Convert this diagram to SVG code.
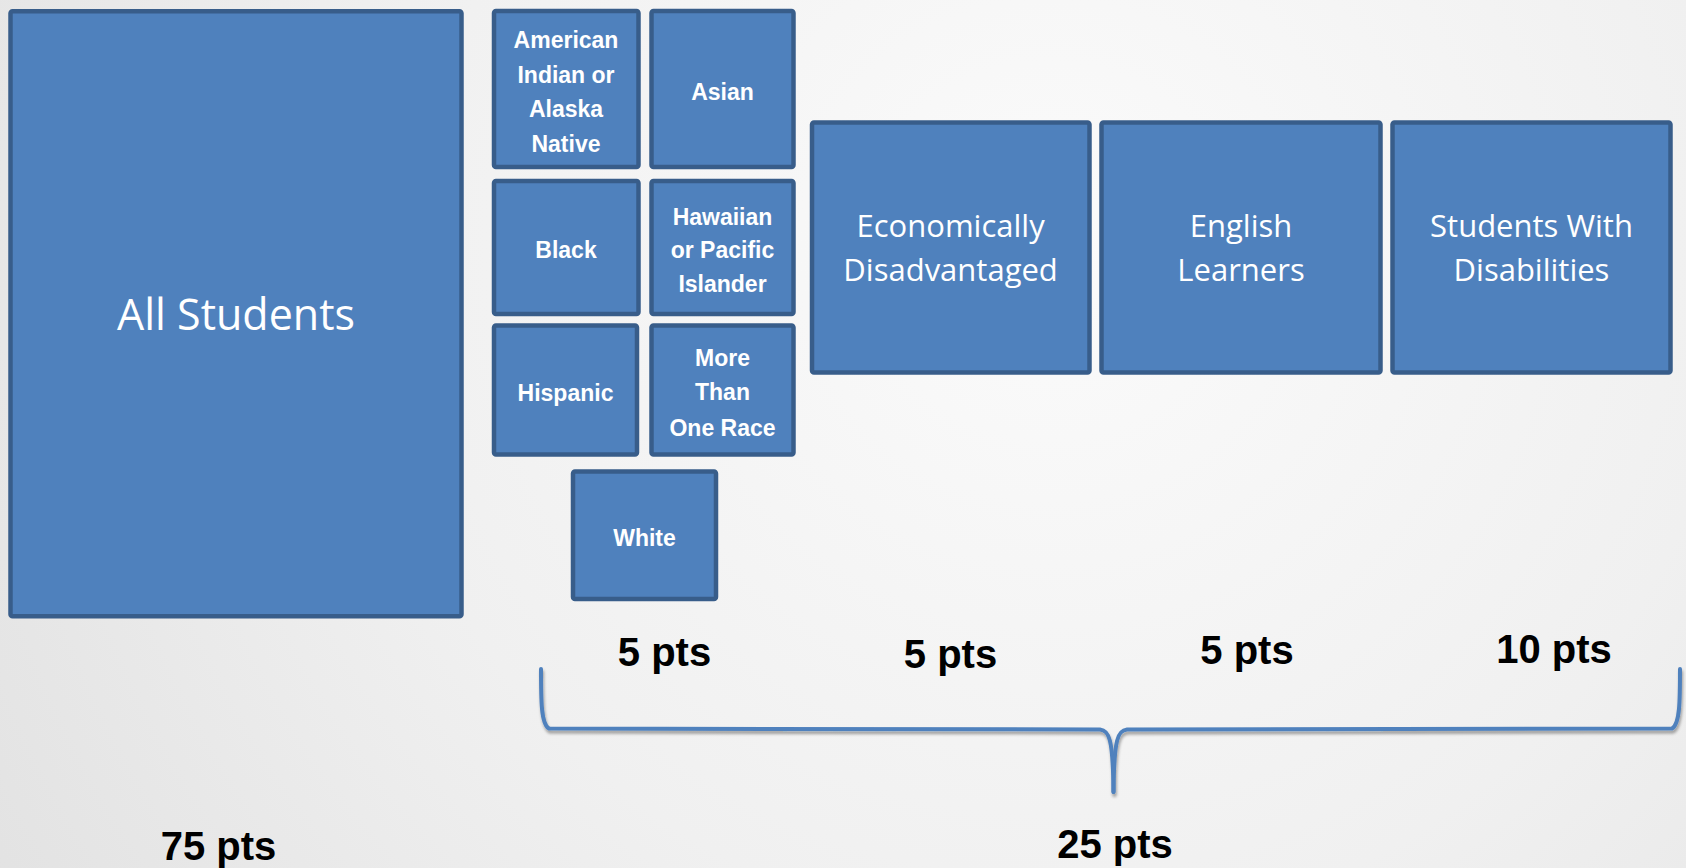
<svg xmlns="http://www.w3.org/2000/svg" width="1686" height="868" viewBox="0 0 1686 868">
  <defs>
    <radialGradient id="bg" cx="1050" cy="250" r="1250" gradientUnits="userSpaceOnUse">
      <stop offset="0" stop-color="#fbfbfb"/>
      <stop offset="0.55" stop-color="#f0f0f0"/>
      <stop offset="1" stop-color="#e2e2e2"/>
    </radialGradient>
    <filter id="shadow" x="-5%" y="-20%" width="110%" height="160%">
      <feGaussianBlur in="SourceAlpha" stdDeviation="1.5"/>
      <feOffset dx="1" dy="3" result="b"/>
      <feComponentTransfer><feFuncA type="linear" slope="0.35"/></feComponentTransfer>
      <feMerge><feMergeNode/><feMergeNode in="SourceGraphic"/></feMerge>
    </filter>
  </defs>
  <style>
    .box { fill: #4f81bd; stroke: #385d8a; stroke-width: 4.5; }
    .big { font-family: "Open Sans", "Liberation Sans", sans-serif; fill: #ffffff; text-anchor: middle; }
    .small { font-family: "Liberation Sans", Arial, sans-serif; font-weight: 700; font-size: 23px; fill: #ffffff; text-anchor: middle; }
    .pts { font-family: "Liberation Sans", Arial, sans-serif; font-weight: 700; font-size: 40px; fill: #000000; text-anchor: middle; }
    .brace { fill: none; stroke: #4f81bd; stroke-width: 4; stroke-linecap: round; stroke-linejoin: round; }
  </style>

  <rect width="1686" height="868" fill="url(#bg)"/>

  <!-- whole population -->
  <g id="all-students">
    <rect class="box" x="10.5" y="11.2" width="451" height="605" rx="2"/>
    <text class="big" x="236" y="330" font-size="43">All Students</text>
  </g>

  <!-- race / ethnicity subgroups -->
  <g id="american-indian">
    <rect class="box" x="494" y="11" width="144.5" height="156" rx="2"/>
    <text class="small" x="566" y="48">American</text>
    <text class="small" x="566" y="83">Indian or</text>
    <text class="small" x="566" y="117">Alaska</text>
    <text class="small" x="566" y="152">Native</text>
  </g>
  <g id="asian">
    <rect class="box" x="651.5" y="11" width="142" height="156" rx="2"/>
    <text class="small" x="722.5" y="100">Asian</text>
  </g>
  <g id="black">
    <rect class="box" x="494" y="181" width="144.5" height="133" rx="2"/>
    <text class="small" x="566" y="258">Black</text>
  </g>
  <g id="hawaiian">
    <rect class="box" x="651.5" y="181" width="142" height="133" rx="2"/>
    <text class="small" x="722.5" y="224.5">Hawaiian</text>
    <text class="small" x="722.5" y="258">or Pacific</text>
    <text class="small" x="722.5" y="292">Islander</text>
  </g>
  <g id="hispanic">
    <rect class="box" x="494" y="325.5" width="143" height="129" rx="2"/>
    <text class="small" x="565.5" y="401">Hispanic</text>
  </g>
  <g id="more-than-one">
    <rect class="box" x="651.5" y="325.5" width="142" height="129" rx="2"/>
    <text class="small" x="722.5" y="366">More</text>
    <text class="small" x="722.5" y="400">Than</text>
    <text class="small" x="722.5" y="436">One Race</text>
  </g>
  <g id="white">
    <rect class="box" x="573" y="471.5" width="143" height="127.5" rx="2"/>
    <text class="small" x="644.5" y="545.5">White</text>
  </g>

  <!-- other subgroups -->
  <g id="econ">
    <rect class="box" x="812" y="122.5" width="277.5" height="250" rx="2"/>
    <text class="big" x="950.6" y="237" font-size="31">Economically</text>
    <text class="big" x="950.6" y="281" font-size="31">Disadvantaged</text>
  </g>
  <g id="english">
    <rect class="box" x="1101.5" y="122.5" width="279" height="250" rx="2"/>
    <text class="big" x="1241" y="237" font-size="31">English</text>
    <text class="big" x="1241" y="281" font-size="31">Learners</text>
  </g>
  <g id="swd">
    <rect class="box" x="1392.5" y="122.5" width="278" height="250" rx="2"/>
    <text class="big" x="1531.5" y="237" font-size="31">Students With</text>
    <text class="big" x="1531.5" y="281" font-size="31">Disabilities</text>
  </g>

  <!-- brace grouping the subgroup points -->
  <g id="connectors" filter="url(#shadow)">
    <path class="brace" d="M541,669 C541,700 541,724 549,728.5 L1100,729.5 C1109,730.5 1113,738 1113.5,792"/>
    <path class="brace" d="M1680,669 C1680,700 1680,724 1672,728.5 L1127,729.5 C1118,730.5 1114,738 1113.5,792"/>
  </g>

  <!-- point values -->
  <g id="points">
    <text class="pts" x="664.5" y="666">5 pts</text>
    <text class="pts" x="950.5" y="668">5 pts</text>
    <text class="pts" x="1247" y="664">5 pts</text>
    <text class="pts" x="1554" y="663">10 pts</text>
    <text class="pts" x="218.5" y="860">75 pts</text>
    <text class="pts" x="1115" y="858">25 pts</text>
  </g>
</svg>
